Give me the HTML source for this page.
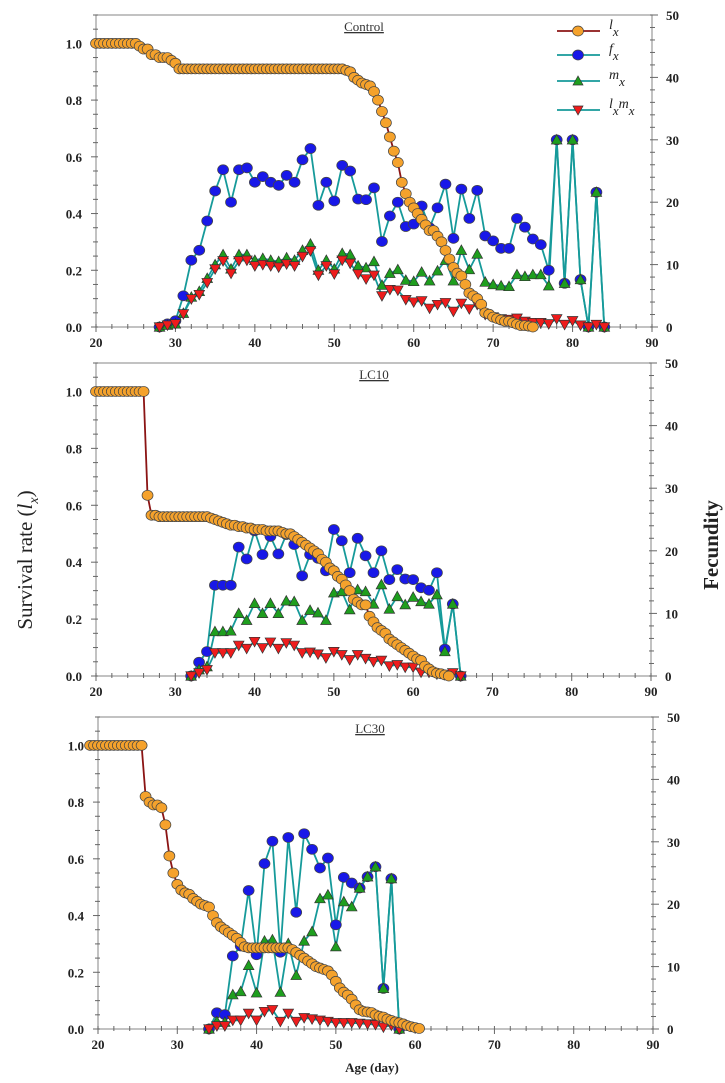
<!DOCTYPE html>
<html><head><meta charset="utf-8">
<style>
html,body{margin:0;padding:0;background:#fff;}
svg{display:block;font-family:"Liberation Serif",serif;}
.tk{font-weight:bold;font-size:13px;fill:#222;}
</style></head>
<body>
<svg id="chart" width="725" height="1083" viewBox="0 0 725 1083">
<text x="0" y="0" transform="translate(32,560) rotate(-90)" text-anchor="middle" font-size="21" fill="#222" font-weight="normal">Survival rate (<tspan font-style="italic">l</tspan><tspan font-style="italic" font-size="14" dy="6">x</tspan><tspan dy="-6">)</tspan></text>
<text x="0" y="0" transform="translate(718,545) rotate(-90)" text-anchor="middle" font-size="21" font-weight="bold" fill="#222">Fecundity</text>
<text x="372" y="1072" text-anchor="middle" font-size="13" font-weight="bold" fill="#222">Age (day)</text>
</svg>
<script>
// ---- Control ----
const ctlLxStart = 20;
const ctlLx = [1,1,1,1,1,1,1,1,1,1,1,0.99,0.98,0.98,0.96,0.96,0.95,0.95,0.95,0.94,0.93,0.91,
0.91,0.91,0.91,0.91,0.91,0.91,0.91,0.91,0.91,0.91,0.91,0.91,0.91,0.91,0.91,0.91,0.91,0.91,0.91,0.91,0.91,0.91,0.91,0.91,0.91,0.91,0.91,0.91,0.91,0.91,0.91,0.91,0.91,0.91,0.91,0.91,0.91,0.91,0.91,0.91,0.91,
0.905,0.90,0.88,0.87,0.86,0.855,0.85,0.83,0.80,0.76,0.72,0.67,0.62,0.58,0.51,0.47,0.44,0.42,0.40,0.38,0.36,0.34,0.34,0.32,0.30,0.27,0.24,0.21,0.19,0.18,0.15,0.12,0.11,0.10,0.08,0.05,0.045,0.035,0.03,0.025,0.02,0.02,0.015,0.01,0.005,0.005,0.003,0];
const ctlDays = [28,29,30,31,32,33,34,35,36,37,38,39,40,41,42,43,44,45,46,47,48,49,50,51,52,53,54,55,56,57,58,59,60,61,62,63,64,65,66,67,68,69,70,71,72,73,74,75,76,77,78,79,80,81,82,83,84];
const ctlFx = [0,0.5,1,5,10.7,12.3,17,21.8,25.2,20,25.2,25.5,23.2,24.1,23.2,22.7,24.3,23.2,26.8,28.6,19.5,23.2,20.2,25.9,25,20.5,20.4,22.3,13.7,17.8,20,16.1,16.5,19.4,15.9,19.1,22.9,14.2,22.1,17.4,21.9,14.6,13.8,12.6,12.6,17.4,16,14.1,13.2,9.1,30,7,30,7.6,0,21.6,0];
const ctlMx = [0,0.3,0.5,2.2,4.8,5.7,7.8,10,11.6,9.3,11.6,11.6,10.7,11,10.7,10.5,11.1,10.7,12.3,13.3,9.1,10.7,9.3,11.8,11.6,9.8,9.5,10.5,6.7,8.6,9.2,7.5,7.3,8.8,7.4,9,10.7,7.4,12.3,9.2,11.7,7.2,6.8,6.6,6.5,8.4,8.1,8.4,8.4,6.6,30,7,30,7.6,0,21.6,0];
const ctlLxMx = [0,0.3,0.5,2.1,4.5,5.2,7.1,9.3,10.6,8.6,10.6,10.7,9.8,10,9.8,9.6,10.1,9.8,11.3,12.2,8.3,9.8,8.5,10.7,10.2,8.5,7.7,8.3,5,6,5.9,4.4,4,4.2,3,3.6,3.9,2.5,3.8,2.9,3.6,2,1.6,1.3,1.2,1.4,0.9,0.7,0.7,0.5,1.3,0.4,1,0.3,0,0.4,0];
// ---- LC10 ----
const lc10LxStart = 20;
const lc10Lx = [1,1,1,1,1,1,1,1,1,1,1,1,1,0.635,0.565,0.565,0.56,0.56,0.56,0.56,0.56,0.56,0.56,0.56,0.56,0.56,0.56,0.56,0.56,0.555,0.55,0.545,0.54,0.535,0.53,0.53,0.525,0.525,0.52,0.52,0.515,0.515,0.515,0.51,0.51,0.51,0.51,0.505,0.50,0.50,0.49,0.48,0.47,0.46,0.45,0.44,0.43,0.41,0.40,0.38,0.37,0.35,0.34,0.32,0.30,0.27,0.26,0.25,0.25,0.21,0.19,0.17,0.16,0.15,0.13,0.12,0.11,0.10,0.09,0.08,0.07,0.06,0.055,0.035,0.025,0.015,0.01,0.008,0.004,0];
const lc10Days = [32,33,34,35,36,37,38,39,40,41,42,43,44,45,46,47,48,49,50,51,52,53,54,55,56,57,58,59,60,61,62,63,64,65,66];
const lc10Fx = [0,2.2,3.9,14.5,14.5,14.5,20.6,18.7,23.2,19.4,22.3,19.5,22.6,21,16,19.4,18.8,16.8,23.4,21.6,16.5,22,19.2,16.5,20,15.4,17,15.5,15.4,14.1,13.7,16.5,4.3,11.5,0];
const lc10Mx = [0,1,1.5,7.1,7.1,7.2,10,8.9,11.6,10,11.6,10,12,11.9,8.9,10.5,10.1,8.9,13.3,13.5,10.6,13.8,13.5,11.5,14.6,10.7,12.7,11.4,12.6,11.9,11.5,13,3.9,11.5,0];
const lc10LxMx = [0,0.5,1,3.7,3.7,3.7,4.9,4.4,5.5,4.5,5.4,4.4,5.3,4.9,3.7,3.8,3.5,2.9,3.9,3.4,2.6,3.4,2.8,2.3,2.5,1.6,1.8,1.4,1.4,0.6,0.6,0.3,0.2,0.5,0];
// ---- LC30 ----
const lc30LxStart = 19;
const lc30Lx = [1,1,1,1,1,1,1,1,1,1,1,1,1,1,0.82,0.80,0.79,0.79,0.78,0.72,0.61,0.55,0.51,0.49,0.48,0.475,0.46,0.45,0.44,0.435,0.43,0.40,0.375,0.36,0.35,0.34,0.33,0.32,0.305,0.29,0.286,0.286,0.286,0.286,0.286,0.286,0.286,0.286,0.286,0.286,0.286,0.28,0.27,0.26,0.25,0.24,0.23,0.22,0.215,0.21,0.205,0.19,0.168,0.145,0.13,0.12,0.105,0.085,0.068,0.062,0.06,0.058,0.05,0.045,0.042,0.035,0.03,0.025,0.022,0.018,0.012,0.008,0.005,0.002];
const lc30Days = [34,35,36,37,38,39,40,41,42,43,44,45,46,47,48,49,50,51,52,53,54,55,56,57,58];
const lc30Fx = [0,2.6,2.3,11.7,13.3,22.2,11.9,26.5,30.1,12.3,30.7,18.7,31.3,28.8,25.8,27.4,16.7,24.3,23.4,22.6,24.4,26,6.5,24.1,0];
const lc30Mx = [0,1.2,1.1,5.5,6,10.2,5.8,14.1,14.3,5.9,13.7,8.6,14.1,15.6,20.9,21.5,13.2,20.4,19.6,22.6,24.4,26,6.5,24.1,0];
const lc30LxMx = [0,0.5,0.5,1.4,1.4,2.5,1.4,2.8,3.1,1.2,2.5,1.2,1.8,1.6,1.4,1.2,1,1,1,0.9,0.8,0.7,0.3,0.6,0];
// axis ticks
const xTicks = [20,30,40,50,60,70,80,90];
const leftTicks = ["0.0","0.2","0.4","0.6","0.8","1.0"];
const rightTicks = [0,10,20,30,40,50];

const NS = "http://www.w3.org/2000/svg";
const svg = document.getElementById('chart');
function mk(tag, attrs, parent){
  const e = document.createElementNS(NS, tag);
  for (const k in attrs) e.setAttribute(k, attrs[k]);
  (parent||svg).appendChild(e);
  return e;
}
const C_ORANGE="#f5a22c", C_BLUE="#1818e8", C_GREEN="#1e9e1e", C_RED="#ee1c1c", C_TEAL="#169a9a", C_DRED="#8b1414";

function panel(p){
  const g = mk('g', {});
  
  
  const X = d => p.x0 + (d - 20) * (p.x1 - p.x0) / 70;
  const YL = v => p.yb - v * (p.yb - p.yt) / 1.1;
  const YR = v => p.yb - v * (p.yb - p.yt) / 50;
  const frame = mk('rect', {x:p.x0, y:p.yt, width:p.x1-p.x0, height:p.yb-p.yt, fill:'none', stroke:'#999', 'stroke-width':1.2}, g);
  
  
  for (let d = 20; d <= 90; d += 2) {
    const major = d % 10 === 0;
    mk('line', {x1:X(d), x2:X(d), y1:p.yb-3, y2:p.yb+(major?5:2), stroke:'#666', 'stroke-width':1}, g);
  }
  xTicks.forEach(t => {
    const tx = mk('text', {x:X(t), y:p.yb+20, 'text-anchor':'middle', class:'tk'}, g);
    tx.textContent = t;
    
    
  });
  for (let i = 0; i <= 22; i++) {
    const v = i * 0.05;
    const major = i % 4 === 0;
    mk('line', {x1:p.x0-(major?5:3), x2:p.x0+2, y1:YL(v), y2:YL(v), stroke:'#666', 'stroke-width':1}, g);
  }
  leftTicks.forEach(t => {
    const tx = mk('text', {x:p.x0-14, y:YL(parseFloat(t))+5, 'text-anchor':'end', class:'tk'}, g);
    tx.textContent = t;
    
    
  });
  for (let v = 0; v <= 50; v += 2) {
    const major = v % 10 === 0;
    mk('line', {x1:p.x1-2, x2:p.x1+(major?6:3), y1:YR(v), y2:YR(v), stroke:'#666', 'stroke-width':1}, g);
  }
  rightTicks.forEach(t => {
    const tx = mk('text', {x:p.x1+14, y:YR(t)+5, 'text-anchor':'start', class:'tk'}, g);
    tx.textContent = t;
    
    
  });
  const tt = mk('text', {x:p.tx, y:p.yt+16, 'text-anchor':'middle', 'font-size':13, fill:'#333', 'text-decoration':'underline'}, g);
  tt.textContent = p.title;
  
  

  function line(xs, ys, color, name){
    const pts = xs.map((x,i)=>x.toFixed(1)+','+ys[i].toFixed(1)).join(' ');
    const pl = mk('polyline', {points:pts, fill:'none', stroke:color, 'stroke-width':1.8}, g);
    
    
  }
  function circ(x, y, color, name){
    const c = mk('ellipse', {cx:x, cy:y, rx:5.5, ry:5, fill:color, stroke:'#444', 'stroke-width':0.7}, g);
    
    
  }
  function tri(x, y, color, up, name){
    const s = 5.3;
    const pts = up ? `${x},${y-s} ${x-s},${y+s*0.8} ${x+s},${y+s*0.8}` : `${x},${y+s} ${x-s},${y-s*0.8} ${x+s},${y-s*0.8}`;
    const t = mk('polygon', {points:pts, fill:color, stroke:'#333', 'stroke-width':0.7}, g);
    
    
  }
  const dx = p.days.map(X);
  line(dx, p.fx.map(YR), C_TEAL, 'fx-line');
  line(dx, p.mx.map(YR), C_TEAL, 'mx-line');
  line(dx, p.lxmx.map(YR), C_TEAL, 'lxmx-line');
  p.fx.forEach((v,i)=>circ(dx[i], YR(v), C_BLUE, 'fx-point'));
  p.mx.forEach((v,i)=>tri(dx[i], YR(v), C_GREEN, true, 'mx-point'));
  p.lxmx.forEach((v,i)=>tri(dx[i], YR(v), C_RED, false, 'lxmx-point'));
  const lxX = p.lx.map((v,i)=>X(p.lxStart + i*0.5));
  line(lxX, p.lx.map(YL), C_DRED, 'lx-line');
  p.lx.forEach((v,i)=>circ(lxX[i], YL(v), C_ORANGE, 'lx-point'));
}

panel({name:'control', title:'Control', tx:364, x0:96, x1:652, yt:15, yb:327, days:ctlDays, fx:ctlFx, mx:ctlMx, lxmx:ctlLxMx, lx:ctlLx, lxStart:ctlLxStart});
panel({name:'lc10', title:'LC10', tx:374, x0:96, x1:651, yt:363, yb:676, days:lc10Days, fx:lc10Fx, mx:lc10Mx, lxmx:lc10LxMx, lx:lc10Lx, lxStart:lc10LxStart});
panel({name:'lc30', title:'LC30', tx:370, x0:98, x1:653, yt:717, yb:1029, days:lc30Days, fx:lc30Fx, mx:lc30Mx, lxmx:lc30LxMx, lx:lc30Lx, lxStart:lc30LxStart});

const lg = mk('g', {});


const legendRows = [
  {y:31, line:C_DRED, fill:C_ORANGE, shape:'c', a:'l', b:'x', name:'legend-lx'},
  {y:55, line:C_TEAL, fill:C_BLUE, shape:'c', a:'f', b:'x', name:'legend-fx'},
  {y:81, line:C_TEAL, fill:C_GREEN, shape:'u', a:'m', b:'x', name:'legend-mx'},
  {y:110, line:C_TEAL, fill:C_RED, shape:'d', a:'l', b:'x', name:'legend-lxmx'}
];
legendRows.forEach(r => {
  const e = mk('g', {}, lg);
  
  
  mk('line', {x1:557, x2:600, y1:r.y, y2:r.y, stroke:r.line, 'stroke-width':1.8}, e);
  const cx = 578, cy = r.y;
  if (r.shape === 'c') mk('ellipse', {cx:cx, cy:cy, rx:5.5, ry:5, fill:r.fill, stroke:'#444', 'stroke-width':0.7}, e);
  else if (r.shape === 'u') mk('polygon', {points:`${cx},${cy-5} ${cx-5},${cy+4} ${cx+5},${cy+4}`, fill:r.fill, stroke:'#333', 'stroke-width':0.7}, e);
  else mk('polygon', {points:`${cx},${cy+5} ${cx-5},${cy-4} ${cx+5},${cy-4}`, fill:r.fill, stroke:'#333', 'stroke-width':0.7}, e);
  const t = mk('text', {x:609, y:r.y-2, 'font-size':14, 'font-style':'italic', fill:'#222'}, e);
  if (r.name === 'legend-lxmx') {
    t.innerHTML = '<tspan>l</tspan><tspan dy="7" font-size="13">x</tspan><tspan dy="-7">m</tspan><tspan dy="7" font-size="13">x</tspan>';
  } else {
    t.innerHTML = '<tspan>' + r.a + '</tspan><tspan dy="7" font-size="13">' + r.b + '</tspan>';
  }
});
</script>
</body></html>
